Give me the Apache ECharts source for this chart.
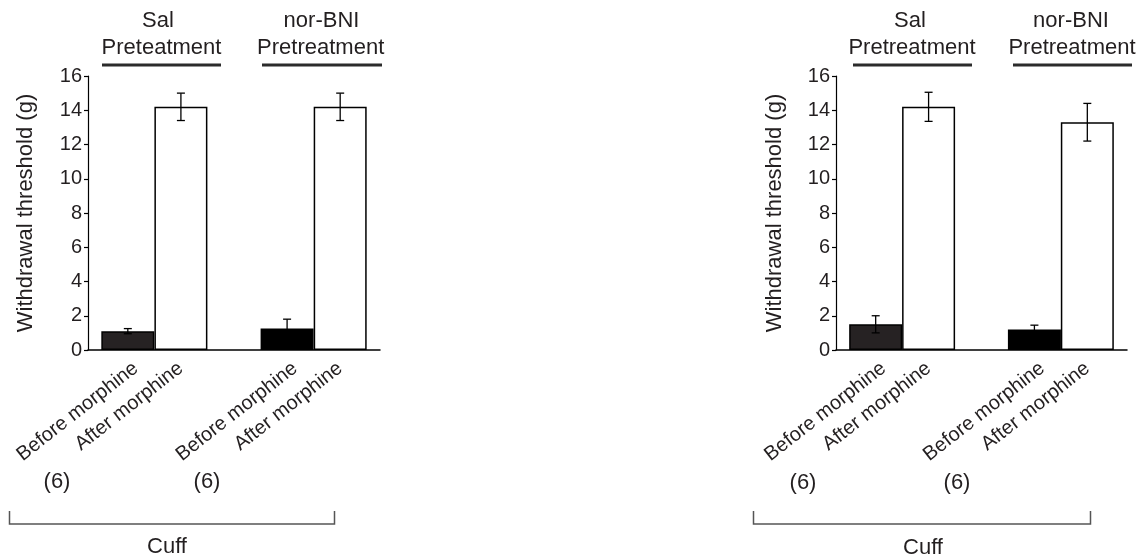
<!DOCTYPE html>
<html>
<head>
<meta charset="utf-8">
<script src="https://cdn.jsdelivr.net/npm/echarts@6/dist/echarts.min.js"></script>
<style>
html,body{margin:0;padding:0;background:#fff;}
#chart{width:1138px;height:559px;}
</style>
</head>
<body>
<div id="chart"></div>
<script>
// ---- data ----
const categories = ['Before morphine', 'After morphine', '', 'Before morphine', 'After morphine'];
const leftValues = [1.1, 14.2, null, 1.25, 14.2];
const leftErrors = [0.15, 0.8, null, 0.55, 0.8];
const rightValues = [1.5, 14.2, null, 1.2, 13.3];
const rightErrors = [0.5, 0.85, null, 0.25, 1.1];
const yTicks = [0, 2, 4, 6, 8, 10, 12, 14, 16];
const yAxisTitle = 'Withdrawal threshold (g)';
const leftGroupLabels = [['Sal', 'Preteatment'], ['nor-BNI', 'Pretreatment']];
const rightGroupLabels = [['Sal', 'Pretreatment'], ['nor-BNI', 'Pretreatment']];
const nLabels = ['(6)', '(6)'];
const bracketLabel = 'Cuff';

// ---- styles ----
const barFills = ['#262223', '#ffffff', null, '#000000', '#ffffff'];
const labelNudge = [0.15, 0, 0, 0.15, 0]; // label anchor nudge (category units)
const FONT = '"Liberation Sans", Arial, Helvetica, sans-serif';
const TXT = '#231f20';

const chart = echarts.init(document.getElementById('chart'), null, {renderer: 'canvas'});

function barData(values) {
  const out = [];
  values.forEach((v, i) => {
    if (v == null) return;
    out.push({value: [i, v], itemStyle: {color: barFills[i]}});
  });
  return out;
}
function errData(values, errs) {
  const out = [];
  values.forEach((v, i) => {
    if (v == null) return;
    out.push([i, v, errs[i]]);
  });
  return out;
}
function renderErr(params, api) {
  const x = api.value(0), y = api.value(1), e = api.value(2);
  const top = api.coord([x, y + e]);
  const bot = api.coord([x, y - e]);
  const cap = 4;
  const st = {stroke: '#000', lineWidth: 1.3};
  return {
    type: 'group',
    children: [
      {type: 'line', shape: {x1: top[0], y1: top[1], x2: bot[0], y2: bot[1]}, style: st},
      {type: 'line', shape: {x1: top[0] - cap, y1: top[1], x2: top[0] + cap, y2: top[1]}, style: st},
      {type: 'line', shape: {x1: bot[0] - cap, y1: bot[1], x2: bot[0] + cap, y2: bot[1]}, style: st}
    ]
  };
}

const labelMap = {};
categories.forEach((c, i) => { if (c) labelMap[(Math.round((i + labelNudge[i]) * 100) / 100).toFixed(2)] = c; });

function xAxis(gridIndex) {
  return {
    type: 'value', gridIndex,
    min: -0.75, max: 4.75, interval: 0.05,
    axisLine: {show: true, onZero: false, lineStyle: {color: '#000', width: 1.5}},
    axisTick: {show: false},
    splitLine: {show: false},
    axisLabel: {
      rotate: 38, margin: 16, fontSize: 20, fontFamily: FONT, color: TXT,
      showMinLabel: true, showMaxLabel: true, hideOverlap: false,
      formatter: v => labelMap[(Math.round(v * 100) / 100).toFixed(2)] || ''
    }
  };
}
function yAxis(gridIndex, nameGap) {
  return {
    type: 'value', gridIndex,
    min: yTicks[0], max: yTicks[yTicks.length - 1], interval: yTicks[1] - yTicks[0],
    name: yAxisTitle, nameLocation: 'middle', nameGap,
    nameTextStyle: {fontSize: 22, fontFamily: FONT, color: TXT},
    axisLine: {show: true, onZero: false, lineStyle: {color: '#000', width: 1.2}},
    axisTick: {show: true, inside: false, length: 4, lineStyle: {color: '#000', width: 1.2}},
    splitLine: {show: false},
    axisLabel: {fontSize: 20, fontFamily: FONT, color: TXT, margin: 6}
  };
}

function textEl(str, cx, cy, size) {
  return {type: 'text', x: cx, y: cy, style: {text: str, fontSize: size, fontFamily: FONT, fill: TXT, align: 'center', verticalAlign: 'middle'}};
}
function lineEl(x1, y1, x2, y2, color, w) {
  return {type: 'line', shape: {x1, y1, x2, y2}, style: {stroke: color, lineWidth: w}};
}

const graphics = [];
function groupHeader(labels, centers, lines) {
  labels.forEach((lab, k) => {
    graphics.push(textEl(lab[0], centers[k][0], 21, 22));
    graphics.push(textEl(lab[1], centers[k][1], 48, 22));
    graphics.push(lineEl(lines[k][0], 65, lines[k][1], 65, '#2b2b2b', 3));
  });
}
groupHeader(leftGroupLabels, [[158, 161.5], [321.5, 320.7]], [[102, 221], [262, 382]]);
groupHeader(rightGroupLabels, [[910, 912], [1071, 1072]], [[853, 972], [1013, 1132]]);
graphics.push(textEl(nLabels[0], 57, 482, 22));
graphics.push(textEl(nLabels[1], 207, 482, 22));
graphics.push(textEl(nLabels[0], 803, 483, 22));
graphics.push(textEl(nLabels[1], 957, 483, 22));
graphics.push({type: 'polyline', shape: {points: [[9.5, 511], [9.5, 524], [334.5, 524], [334.5, 511]]}, style: {stroke: '#555', lineWidth: 1.5, fill: null}});
graphics.push({type: 'polyline', shape: {points: [[753.5, 511], [753.5, 524], [1090.5, 524], [1090.5, 511]]}, style: {stroke: '#555', lineWidth: 1.5, fill: null}});
graphics.push(textEl(bracketLabel, 167, 547, 22));
graphics.push(textEl(bracketLabel, 923, 548, 22));

const option = {
  backgroundColor: '#fff',
  animation: false,
  grid: [
    {left: 88, top: 76, width: 292, height: 274},
    {left: 836, top: 76, width: 291, height: 274}
  ],
  xAxis: [xAxis(0), xAxis(1)],
  yAxis: [yAxis(0, 51), yAxis(1, 50)],
  series: [
    {type: 'bar', xAxisIndex: 0, yAxisIndex: 0, barWidth: 53, data: barData(leftValues),
     itemStyle: {borderColor: '#000', borderWidth: 1.5}},
    {type: 'bar', xAxisIndex: 1, yAxisIndex: 1, barWidth: 53, data: barData(rightValues),
     itemStyle: {borderColor: '#000', borderWidth: 1.5}},
    {type: 'custom', xAxisIndex: 0, yAxisIndex: 0, renderItem: renderErr, data: errData(leftValues, leftErrors), z: 5},
    {type: 'custom', xAxisIndex: 1, yAxisIndex: 1, renderItem: renderErr, data: errData(rightValues, rightErrors), z: 5}
  ],
  graphic: graphics
};
chart.setOption(option);
</script>
</body>
</html>
